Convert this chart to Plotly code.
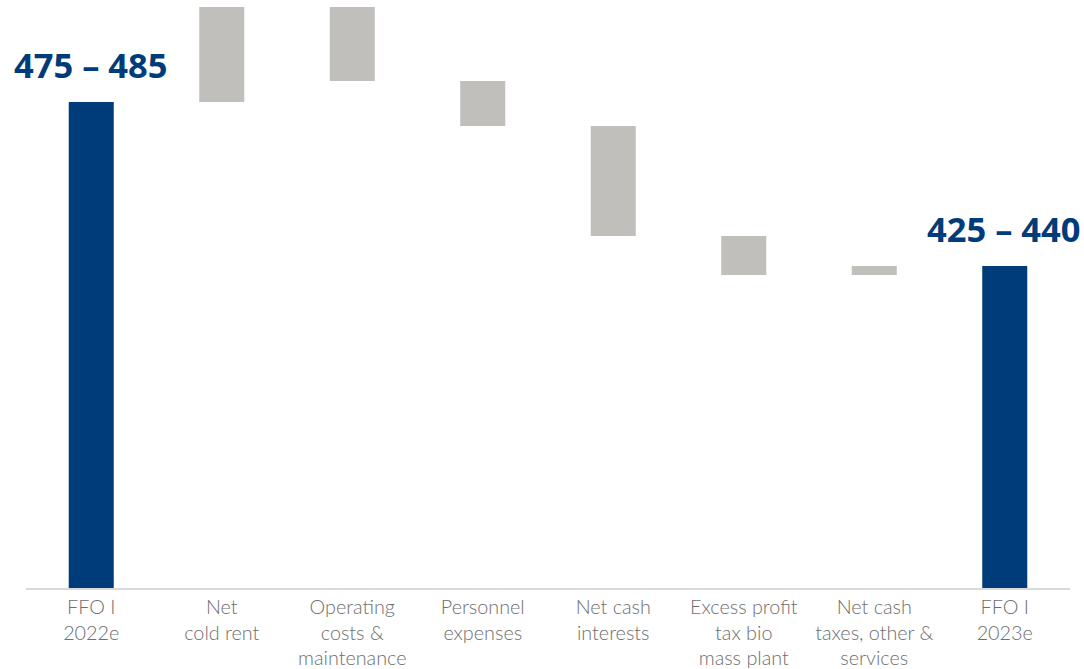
import plotly.graph_objects as go

categories = ["FFO I<br>2022e", "Net<br>cold rent", "Operating<br>costs &<br>maintenance",
              "Personnel<br>expenses", "Net cash<br>interests", "Excess profit<br>tax bio<br>mass plant",
              "Net cash<br>taxes, other &<br>services", "FFO I<br>2023e"]
measures = ["absolute", "relative", "relative", "relative", "relative", "relative", "relative", "total"]
values = [486, 95, -74, -45, -110, -39, 9, 0]
range_labels = ["475 – 485", "425 – 440"]

BLUE = "#003b7a"
GRAY = "#c0bfbc"

fig = go.Figure(go.Waterfall(
    x=categories, y=values, measure=measures,
    width=[0.345] * len(categories),
    connector=dict(visible=False),
    increasing=dict(marker=dict(color=GRAY)),
    decreasing=dict(marker=dict(color=GRAY)),
    totals=dict(marker=dict(color=BLUE)),
    hoverinfo="skip",
))

start_total = values[0]
end_total = sum(values)
fig.add_annotation(x=0, y=start_total, text="<b>%s</b>" % range_labels[0], showarrow=False,
                   yanchor="bottom", yshift=12, font=dict(size=34.5, color=BLUE, family="Open Sans"))
fig.add_annotation(x=7, y=end_total, text="<b>%s</b>" % range_labels[1], showarrow=False,
                   yanchor="bottom", yshift=12, xshift=-1, font=dict(size=34.5, color=BLUE, family="Open Sans"))

fig.update_layout(
    width=1084, height=669,
    margin=dict(l=0, r=0, t=7, b=81),
    paper_bgcolor="white", plot_bgcolor="white",
    showlegend=False,
    xaxis=dict(range=[-0.5, 7.5], domain=[26/1084, 1070/1084], showgrid=False, showline=True,
               linecolor="#d9d9d9", linewidth=2, ticks="",
               tickfont=dict(size=19.8, color="#6e6e6e", family="Lato", weight=300)),
    yaxis=dict(range=[0, 581], visible=False, showgrid=False, zeroline=False),
)

fig.write_html("out.html")
